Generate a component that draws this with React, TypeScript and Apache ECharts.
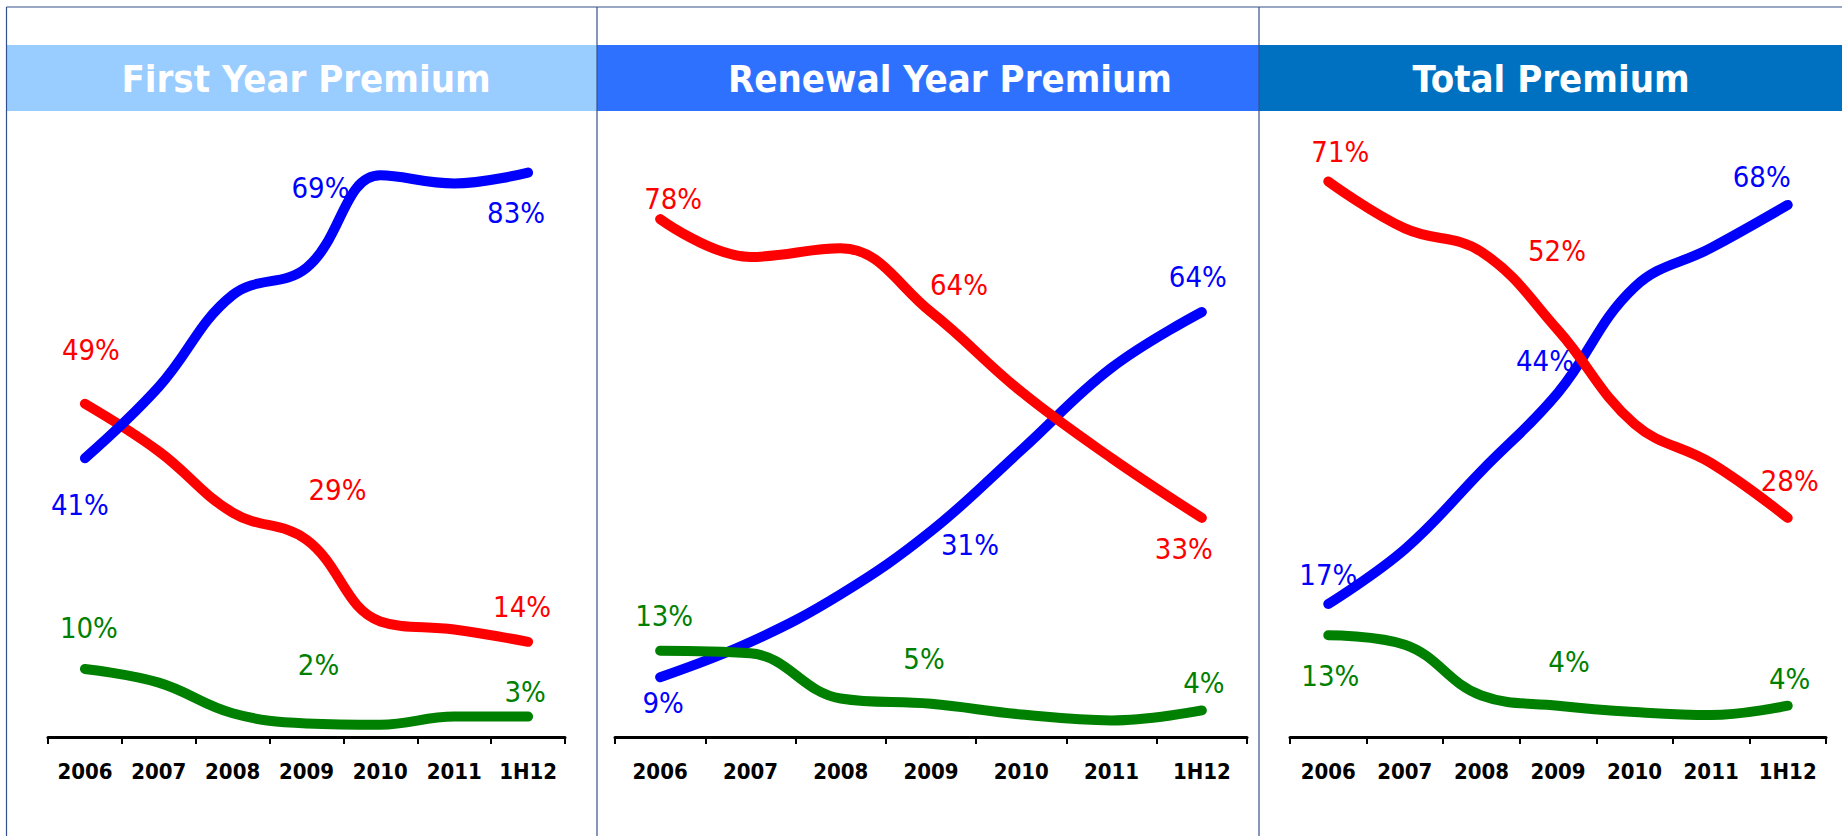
import React, { useEffect, useRef } from 'react';
import * as echarts from 'echarts';

// ---------- data ----------
const categories = ['2006', '2007', '2008', '2009', '2010', '2011', '1H12'];
const panelTitles = ['First Year Premium', 'Renewal Year Premium', 'Total Premium'];

const firstYearBlue = [41, 51.5, 65, 69, 82.6, 81.4, 83];
const firstYearRed = [49, 42, 33, 29, 17, 15.8, 14];
const firstYearGreen = [10, 8, 3.5, 2, 1.8, 3, 3];

const renewalBlue = [9, 14.3, 21.5, 31, 43.2, 55.6, 64];
const renewalRed = [78, 72.3, 73.6, 64, 52, 42, 33];
const renewalGreen = [13, 12.6, 5.8, 5, 3.4, 2.5, 4];

const totalBlue = [17, 24, 34, 44, 57.5, 62.5, 68];
const totalRed = [71, 65, 62, 52, 40, 35, 28];
const totalGreen = [13, 11.8, 5.3, 4, 3.2, 2.8, 4];

const labeledIndices = [0, 3, 6];

// ---------- styles ----------
const W = 1842;
const H = 836;
const COLORS = { blue: '#0000FF', red: '#FF0000', green: '#008000' };
const FONT = '"DejaVu Sans Condensed", "Liberation Sans", Tahoma, sans-serif';
const BORDER = '#34508C';
const BAND_TOP = 45;
const BAND_BOTTOM = 111;

type Off = [number, number][];
interface PanelStyle {
  grid: { left: number; top: number; width: number; height: number };
  yMax: number;
  band: [number, number];
  bandColor: string;
  titleX: number;
  order: ('blue' | 'red' | 'green')[];
  offsets: { blue: Off; red: Off; green: Off };
}

const panelStyles: PanelStyle[] = [
  {
    grid: { left: 48, top: 57, width: 517, height: 680 },
    yMax: 100,
    band: [7, 597],
    bandColor: '#99CCFF',
    titleX: 306,
    order: ['red', 'blue', 'green'],
    offsets: {
      blue: [[-5, 47], [14, -80], [-12, 40]],
      red: [[6, -54], [31, -50], [-6, -35]],
      green: [[4, -41], [12, -58], [-3, -25]],
    },
  },
  {
    grid: { left: 615, top: 73, width: 632, height: 664 },
    yMax: 100,
    band: [597, 1259],
    bandColor: '#2E71FF',
    titleX: 950,
    order: ['blue', 'red', 'green'],
    offsets: {
      blue: [[3, 26], [39, 14], [-4, -35]],
      red: [[13, -20], [28, -27], [-18, 31]],
      green: [[4, -35], [-7, -45], [2, -27]],
    },
  },
  {
    grid: { left: 1290, top: 111, width: 536, height: 626 },
    yMax: 80,
    band: [1259, W],
    bandColor: '#0070C0',
    titleX: 1551,
    order: ['blue', 'red', 'green'],
    offsets: {
      blue: [[0, -29], [-13, -32], [-26, -28]],
      red: [[12, -29], [-1, -79], [2, -37]],
      green: [[2, 41], [11, -44], [2, -27]],
    },
  },
];

const panelData = [
  { blue: firstYearBlue, red: firstYearRed, green: firstYearGreen },
  { blue: renewalBlue, red: renewalRed, green: renewalGreen },
  { blue: totalBlue, red: totalRed, green: totalGreen },
];

function buildOption() {
  const grids: any[] = [];
  const xAxes: any[] = [];
  const yAxes: any[] = [];
  const series: any[] = [];
  const graphics: any[] = [];

  panelStyles.forEach((p, pi) => {
    grids.push({ ...p.grid, containLabel: false });
    xAxes.push({
      type: 'category',
      gridIndex: pi,
      data: categories,
      boundaryGap: true,
      axisLine: { show: true, lineStyle: { color: '#000', width: 3 } },
      axisTick: { show: true, length: 7, lineStyle: { color: '#000', width: 2 } },
      axisLabel: {
        color: '#000',
        fontSize: 22,
        fontWeight: 'bold',
        fontFamily: FONT,
        margin: 23,
        interval: 0,
      },
      splitLine: { show: false },
    });
    yAxes.push({
      type: 'value',
      gridIndex: pi,
      min: 0,
      max: p.yMax,
      show: false,
      splitLine: { show: false },
    });

    p.order.forEach((key) => {
      const values = panelData[pi][key];
      const offs = p.offsets[key];
      series.push({
        type: 'line',
        name: key,
        xAxisIndex: pi,
        yAxisIndex: pi,
        smooth: 0.4,
        symbol: 'circle',
        symbolSize: 2,
        showSymbol: true,
        itemStyle: { color: 'rgba(0,0,0,0)' },
        lineStyle: { color: COLORS[key], width: 10, cap: 'round', join: 'round' },
        label: {
          show: false,
          position: 'inside',
          color: COLORS[key],
          fontSize: 29,
          fontFamily: FONT,
          formatter: (prm: any) => `${Math.round(prm.value)}%`,
        },
        emphasis: { disabled: true },
        data: values.map((v, i) => {
          const li = labeledIndices.indexOf(i);
          if (li < 0) return v;
          return { value: v, label: { show: true, offset: offs[li] } };
        }),
      });
    });

    // title band
    graphics.push({
      type: 'rect',
      shape: { x: p.band[0], y: BAND_TOP, width: p.band[1] - p.band[0], height: BAND_BOTTOM - BAND_TOP },
      style: { fill: p.bandColor },
      z: 1,
    });
    graphics.push({
      type: 'text',
      x: p.titleX,
      y: (BAND_TOP + BAND_BOTTOM) / 2 + 1,
      style: {
        text: panelTitles[pi],
        fill: '#FFFFFF',
        fontSize: 38,
        fontWeight: 'bold',
        fontFamily: FONT,
        align: 'center',
        verticalAlign: 'middle',
      },
      z: 2,
    });
  });

  // borders
  const lineStyle = { stroke: BORDER, lineWidth: 1.2 };
  graphics.push({ type: 'line', shape: { x1: 6.5, y1: 7, x2: W, y2: 7 }, style: lineStyle, z: 3 });
  graphics.push({ type: 'line', shape: { x1: 6.5, y1: 7, x2: 6.5, y2: H }, style: lineStyle, z: 3 });
  graphics.push({ type: 'line', shape: { x1: 597, y1: 7, x2: 597, y2: H }, style: lineStyle, z: 3 });
  graphics.push({ type: 'line', shape: { x1: 1259, y1: 7, x2: 1259, y2: H }, style: lineStyle, z: 3 });

  return {
    animation: false,
    backgroundColor: '#FFFFFF',
    grid: grids,
    xAxis: xAxes,
    yAxis: yAxes,
    series,
    graphic: graphics,
  };
}

export default function App() {
  const ref = useRef<HTMLDivElement>(null);
  useEffect(() => {
    if (!ref.current) return;
    const chart = echarts.init(ref.current, undefined, { renderer: 'svg' });
    chart.setOption(buildOption() as any);
    return () => chart.dispose();
  }, []);
  return (
    <div
      ref={ref}
      style={{ position: 'fixed', left: 0, top: 0, width: W, height: H, background: '#fff' }}
    />
  );
}
